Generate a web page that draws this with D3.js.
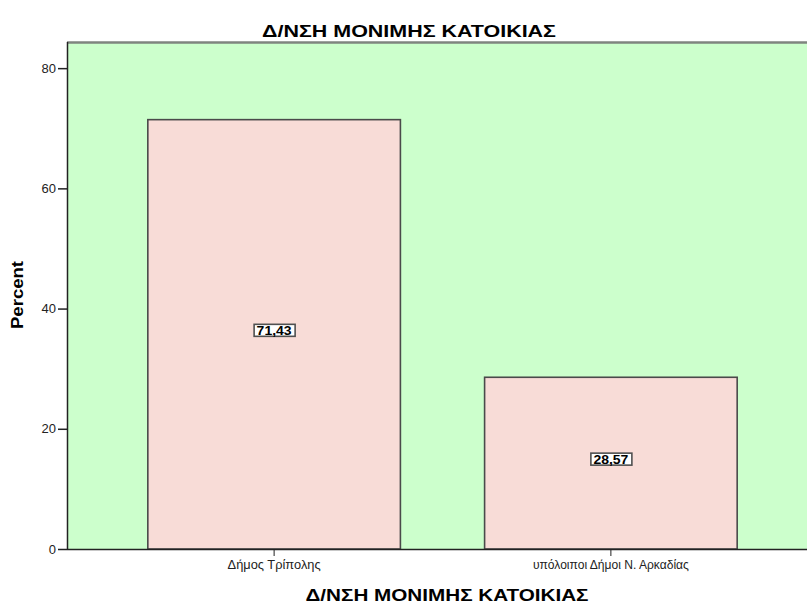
<!DOCTYPE html>
<html>
<head>
<meta charset="utf-8">
<script src="https://cdn.jsdelivr.net/npm/d3@7"></script>
<style>
  body { margin: 0; background: #fff; }
  svg { display: block; }
</style>
</head>
<body>
<svg id="chart" width="807" height="604"></svg>
<script>
// Residence of respondents, percent per category
const categories = ["Δήμος Τρίπολης", "υπόλοιποι Δήμοι Ν. Αρκαδίας"];
const percents = [71.43, 28.57];
const valueLabels = ["71,43", "28,57"];
const yTicks = [0, 20, 40, 60, 80];
const chartTitle = "Δ/ΝΣΗ ΜΟΝΙΜΗΣ ΚΑΤΟΙΚΙΑΣ";
const xTitle = "Δ/ΝΣΗ ΜΟΝΙΜΗΣ ΚΑΤΟΙΚΙΑΣ";
const yTitle = "Percent";

const svg = d3.select("#chart");
const font = "'Liberation Sans', Arial, sans-serif";

const plot = { left: 67, top: 42, right: 807, bottom: 549 };

const x = d3.scaleBand()
  .domain(categories)
  .range([plot.left, 818])
  .paddingInner(0.25)
  .paddingOuter(0.24);

const y = d3.scaleLinear()
  .domain([0, 84.35])
  .range([plot.bottom, plot.top]);

// plot background
svg.append("rect")
  .attr("x", plot.left).attr("y", plot.top)
  .attr("width", plot.right - plot.left)
  .attr("height", plot.bottom - plot.top)
  .attr("fill", "#ccffcc");

// top frame line
svg.append("line")
  .attr("x1", plot.left).attr("x2", plot.right)
  .attr("y1", plot.top + 0.5).attr("y2", plot.top + 0.5)
  .attr("stroke", "#7f857f").attr("stroke-width", 2.5);

// bars
const data = categories.map((c, i) => ({ c, v: percents[i], label: valueLabels[i] }));
svg.append("g").selectAll("rect")
  .data(data)
  .join("rect")
  .attr("x", d => x(d.c))
  .attr("y", d => y(d.v))
  .attr("width", x.bandwidth())
  .attr("height", d => y(0) - y(d.v))
  .attr("fill", "#f8dcd7")
  .attr("stroke", "#4a4a4a")
  .attr("stroke-width", 1.6);

// value labels in boxes
const lab = svg.append("g").selectAll("g")
  .data(data)
  .join("g")
  .attr("transform", d => `translate(${x(d.c) + x.bandwidth() / 2},${y(d.v / 2) - 4})`);
lab.append("rect")
  .attr("x", -20).attr("y", -6).attr("width", 41).attr("height", 12)
  .attr("fill", "#ffffff").attr("stroke", "#505050").attr("stroke-width", 1.6);
lab.append("text")
  .attr("text-anchor", "middle")
  .attr("dy", "0.37em")
  .attr("font-family", font)
  .attr("font-size", 12)
  .attr("font-weight", "bold")
  .attr("textLength", 35)
  .attr("lengthAdjust", "spacingAndGlyphs")
  .attr("fill", "#000")
  .text(d => d.label);

// y axis
const yAxis = svg.append("g")
  .attr("transform", `translate(${plot.left},0)`)
  .call(d3.axisLeft(y).tickValues(yTicks).tickSize(9).tickPadding(2).tickFormat(d3.format("d")));
yAxis.select(".domain").attr("stroke", "#222").attr("stroke-width", 1.5)
  .attr("d", `M0.5,${plot.top}V${plot.bottom}`);
yAxis.selectAll(".tick line").attr("stroke", "#222").attr("stroke-width", 1.5);
yAxis.selectAll(".tick text").attr("font-family", font).attr("font-size", 13).attr("fill", "#222");

// x axis
const xAxis = svg.append("g")
  .attr("transform", `translate(0,${plot.bottom})`)
  .call(d3.axisBottom(x).tickSize(7).tickPadding(4));
xAxis.select(".domain").attr("stroke", "#222").attr("stroke-width", 1.5)
  .attr("d", `M${plot.left},0.5H${plot.right}`);
xAxis.selectAll(".tick line").attr("stroke", "#222");
const catWidths = [93, 156];
xAxis.selectAll(".tick text")
  .attr("font-family", font).attr("font-size", 13).attr("fill", "#222")
  .attr("textLength", (d, i) => catWidths[i])
  .attr("lengthAdjust", "spacingAndGlyphs");

// titles
svg.append("text")
  .attr("x", 409).attr("y", 37)
  .attr("text-anchor", "middle")
  .attr("font-family", font).attr("font-size", 17).attr("font-weight", "bold")
  .attr("textLength", 294).attr("lengthAdjust", "spacingAndGlyphs")
  .text(chartTitle);

svg.append("text")
  .attr("x", 447).attr("y", 601)
  .attr("text-anchor", "middle")
  .attr("font-family", font).attr("font-size", 17).attr("font-weight", "bold")
  .attr("textLength", 283).attr("lengthAdjust", "spacingAndGlyphs")
  .text(xTitle);

svg.append("text")
  .attr("transform", `translate(23,${295}) rotate(-90)`)
  .attr("text-anchor", "middle")
  .attr("font-family", font).attr("font-size", 17).attr("font-weight", "bold")
  .attr("textLength", 68).attr("lengthAdjust", "spacingAndGlyphs")
  .text(yTitle);
</script>
</body>
</html>
